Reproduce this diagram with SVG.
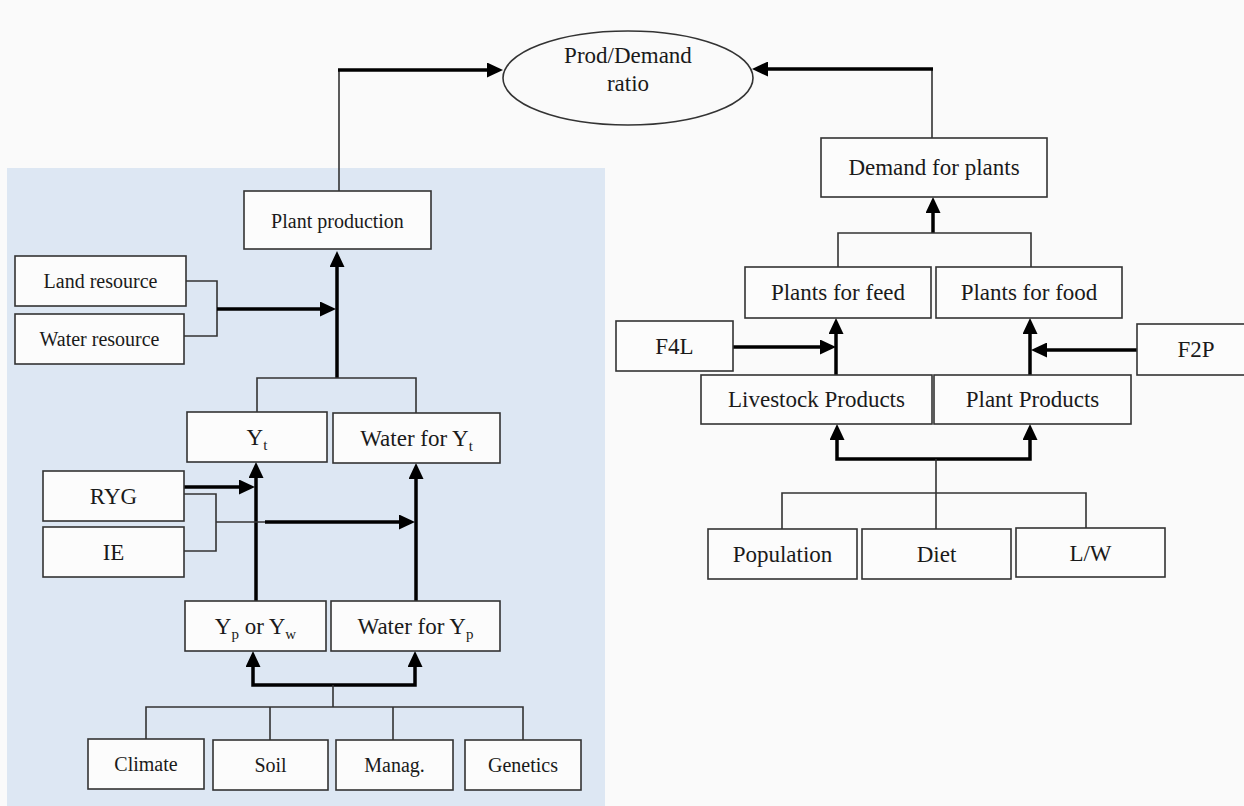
<svg xmlns="http://www.w3.org/2000/svg" width="1244" height="806" viewBox="0 0 1244 806">
<defs>
<marker id="ah" markerUnits="userSpaceOnUse" markerWidth="16" markerHeight="15" refX="4" refY="7.5" orient="auto-start-reverse">
<path d="M0,0 L16,7.5 L0,15 z" fill="#000"/>
</marker>
<style>
.box{fill:#fcfcfc;stroke:#333;stroke-width:1.6}
.t{font-family:"Liberation Serif","Times New Roman",serif;fill:#1a1a1a;text-anchor:middle}
.s{font-size:20px}
.l{font-size:23px}
.thin{fill:none;stroke:#333;stroke-width:1.6}
.thick{fill:none;stroke:#000;stroke-width:3.5}
.arr{marker-end:url(#ah)}
.arr2{marker-start:url(#ah);marker-end:url(#ah)}
</style>
</defs>
<rect x="0" y="0" width="1244" height="806" fill="#fafafa"/>
<rect id="panel" x="7" y="168" width="598" height="638" fill="#dde7f3"/>

<g id="connectors">
<path class="thin" d="M339,191 V70"/>
<path class="thick arr" d="M338,70 H491"/>
<path class="thin" d="M932,138 V69"/>
<path class="thick arr" d="M933,69 H764"/>

<path class="thin" d="M186,281 H217 V336 H184"/>
<path class="thick arr" d="M217,309 H324"/>
<path class="thick arr" d="M337,378 V263"/>
<path class="thin" d="M257,412 V378 H416 V413"/>
<path class="thick arr" d="M256,601 V474"/>
<path class="thick arr" d="M416,601 V475"/>
<path class="thick arr" d="M184,487 H243"/>
<path class="thin" d="M184,494 H216 V551 H184"/>
<path class="thin" d="M216,522 H266"/>
<path class="thick arr" d="M265,522 H403"/>
<path class="thick arr2" d="M253,663 V685 H415 V663"/>
<path class="thin" d="M333,685 V707"/>
<path class="thin" d="M146,739 V707 H523 V740 M270,707 V740 M393,707 V740"/>

<path class="thick arr" d="M933,233 V209"/>
<path class="thin" d="M838,267 V233 H1031 V267"/>
<path class="thick arr" d="M733,347 H824"/>
<path class="thick arr" d="M836,375 V330"/>
<path class="thick arr" d="M1137,350 H1043"/>
<path class="thick arr" d="M1030,375 V330"/>
<path class="thick arr2" d="M837,436 V459 H1030 V436"/>
<path class="thin" d="M936,459 V529"/>
<path class="thin" d="M782,529 V493 H1086 V528"/>
</g>

<g id="ratio">
<ellipse cx="628" cy="78" rx="125" ry="47" fill="#fafafa" stroke="#333" stroke-width="1.6"/>
<text class="t l" x="628" y="63">Prod/Demand</text>
<text class="t l" x="628" y="91">ratio</text>
</g>

<g id="plant-production"><rect class="box" x="244" y="191" width="187" height="58"/><text class="t s" x="337.5" y="228">Plant production</text></g>
<g id="land-resource"><rect class="box" x="15" y="256" width="171" height="50"/><text class="t s" x="100.5" y="288">Land resource</text></g>
<g id="water-resource"><rect class="box" x="15" y="314" width="169" height="50"/><text class="t s" x="99.5" y="346">Water resource</text></g>
<g id="yt"><rect class="box" x="187" y="412" width="140" height="50"/><text class="t l" x="257" y="445">Y<tspan font-size="15" dy="5">t</tspan></text></g>
<g id="water-yt"><rect class="box" x="333" y="413" width="167" height="50"/><text class="t l" x="416.5" y="446">Water for Y<tspan font-size="15" dy="5">t</tspan></text></g>
<g id="ryg"><rect class="box" x="43" y="471" width="141" height="50"/><text class="t l" x="113.5" y="504">RYG</text></g>
<g id="ie"><rect class="box" x="43" y="527" width="141" height="50"/><text class="t l" x="113.5" y="560">IE</text></g>
<g id="yp-yw"><rect class="box" x="185" y="601" width="141" height="50"/><text class="t l" x="255.5" y="634">Y<tspan font-size="15" dy="5">p</tspan><tspan dy="-5"> or Y</tspan><tspan font-size="15" dy="5">w</tspan></text></g>
<g id="water-yp"><rect class="box" x="331" y="601" width="169" height="50"/><text class="t l" x="415.5" y="634">Water for Y<tspan font-size="15" dy="5">p</tspan></text></g>
<g id="climate"><rect class="box" x="88" y="739" width="116" height="50"/><text class="t s" x="146" y="771">Climate</text></g>
<g id="soil"><rect class="box" x="213" y="740" width="115" height="50"/><text class="t s" x="270.5" y="772">Soil</text></g>
<g id="manag"><rect class="box" x="336" y="740" width="117" height="50"/><text class="t s" x="394.5" y="772">Manag.</text></g>
<g id="genetics"><rect class="box" x="465" y="740" width="116" height="50"/><text class="t s" x="523" y="772">Genetics</text></g>

<g id="demand-plants"><rect class="box" x="821" y="138" width="226" height="59"/><text class="t l" x="934" y="175">Demand for plants</text></g>
<g id="plants-feed"><rect class="box" x="745" y="267" width="186" height="51"/><text class="t l" x="838" y="300">Plants for feed</text></g>
<g id="plants-food"><rect class="box" x="936" y="267" width="186" height="51"/><text class="t l" x="1029" y="300">Plants for food</text></g>
<g id="f4l"><rect class="box" x="616" y="321" width="117" height="50"/><text class="t l" x="674.5" y="354">F4L</text></g>
<g id="f2p"><rect class="box" x="1137" y="324" width="115" height="51"/><text class="t l" x="1196" y="357">F2P</text></g>
<g id="livestock-products"><rect class="box" x="701" y="375" width="231" height="49"/><text class="t l" x="816.5" y="407">Livestock Products</text></g>
<g id="plant-products"><rect class="box" x="934" y="375" width="197" height="49"/><text class="t l" x="1032.5" y="407">Plant Products</text></g>
<g id="population"><rect class="box" x="708" y="529" width="149" height="50"/><text class="t l" x="782.5" y="562">Population</text></g>
<g id="diet"><rect class="box" x="862" y="529" width="149" height="50"/><text class="t l" x="936.5" y="562">Diet</text></g>
<g id="lw"><rect class="box" x="1016" y="528" width="149" height="49"/><text class="t l" x="1090.5" y="561">L/W</text></g>
</svg>
